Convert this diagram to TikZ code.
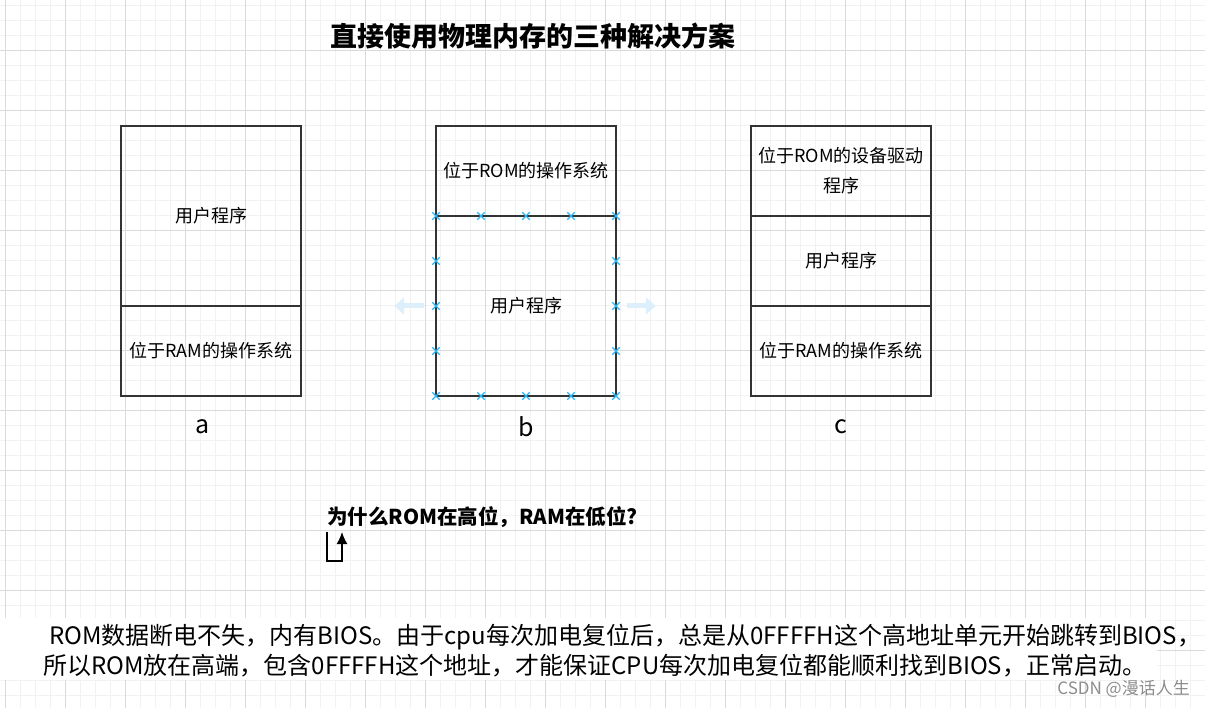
\documentclass[tikz,border=0pt]{standalone}
\usepackage{fontspec}
\setmainfont{Noto Sans CJK SC}
\usetikzlibrary{positioning,arrows.meta,shapes.misc}
\definecolor{gridmin}{HTML}{F2F2F2}
\definecolor{gridmaj}{HTML}{DADADA}
\definecolor{selblue}{HTML}{29B6F2}
\definecolor{hintblue}{HTML}{DCEFFA}
\definecolor{boxline}{HTML}{333333}

\begin{document}
\begin{tikzpicture}[x=1pt,y=-1pt,
  gmin/.style={draw=gridmin,line width=0.9pt},
  gmaj/.style={draw=gridmaj,line width=0.9pt},
  cell/.style={draw=boxline,line width=1.6pt,minimum width=180pt,inner sep=0pt,align=center,font=\fontsize{18}{30}\selectfont},
  tall/.style={cell,minimum height=180pt},
  flat/.style={cell,minimum height=90pt},
  tag/.style={font=\fontsize{25}{25}\selectfont,inner sep=0pt},
  selx/.style={cross out,draw=selblue,line width=1.3pt,minimum size=6pt,inner sep=0pt},
  hint/.style={draw=hintblue,line width=5pt,-{Triangle[length=10pt,width=17pt]}},
  ar/.style={-{Latex[length=12pt,width=11pt]},line width=1.4pt}
]
\useasboundingbox (0,0) rectangle (1205,708);
% grid
\foreach \x in {5,20,...,1205} \draw[gmin] (\x,0) -- (\x,708);
\foreach \y in {5,20,...,708} \draw[gmin] (0,\y) -- (1205,\y);
\foreach \x in {5,65,...,1205} \draw[gmaj] (\x,0) -- (\x,708);
\foreach \y in {50,110,...,708} \draw[gmaj] (0,\y) -- (1205,\y);
\fill[white] (0,618) rectangle (1157,680);

\node[font=\fontsize{27}{27}\selectfont\bfseries] (ttl) at (533,36) {直接使用物理内存的三种解决方案};

% a
\node[tall] (a1) at (211,216) {用户程序};
\node[flat] (a2) at (211,351) {位于RAM的操作系统};
\node[tag]  (la) at (203,427) {a};
% b
\node[flat] (b1) at (526,171) {位于ROM的操作系统};
\node[tall] (b2) at (526,306) {用户程序};
\node[tag]  (lb) at (526,427) {b};
\foreach \p in {(436,216),(481,216),(526,216),(571,216),(616,216),
                (436,396),(481,396),(526,396),(571,396),(616,396),
                (436,261),(436,306),(436,351),(616,261),(616,306),(616,351)}
  \node[selx] at \p {};
\draw[hint] ([xshift=-11pt]b2.west) -- ++(-30,0);
\draw[hint] ([xshift=10pt]b2.east) -- ++(29,0);
% c
\node[flat] (c1) at (841,171) {位于ROM的设备驱动\\程序};
\node[flat] (c2) at (841,261) {用户程序};
\node[flat] (c3) at (841,351) {位于RAM的操作系统};
\node[tag]  (lc) at (841,427) {c};

\node[anchor=west,inner sep=0pt,font=\fontsize{20.5}{20.5}\selectfont\bfseries] (q) at (327,517) {为什么ROM在高位，RAM在低位?};
\coordinate (q0) at (327,532);
\draw[ar] (q0) -- ++(0,29) -- ++(15,0) -- ++(0,-29);

\node[anchor=west,inner sep=0pt,align=left,font=\fontsize{24}{30}\selectfont] (why) at (43,651)
  {\hspace{6pt}ROM数据断电不失，内有BIOS。由于cpu每次加电复位后，总是从0FFFFH这个高地址单元开始跳转到BIOS，\\
   所以ROM放在高端，包含0FFFFH这个地址，才能保证CPU每次加电复位都能顺利找到BIOS，正常启动。};
\node[anchor=east,inner sep=0pt,text=black!45,font=\fontsize{17}{17}\selectfont] (wm) at (1190,689) {CSDN @漫话人生};
\end{tikzpicture}
\end{document}
